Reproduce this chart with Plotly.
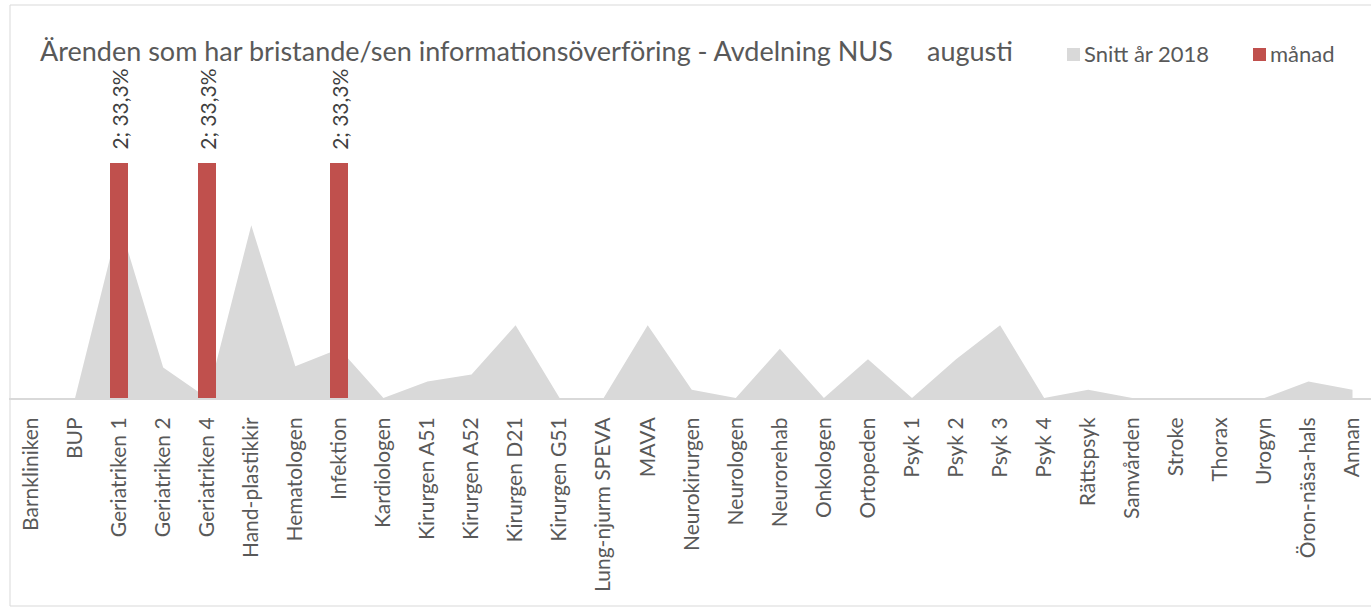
import plotly.graph_objects as go

categories = [
    "Barnkliniken", "BUP", "Geriatriken 1", "Geriatriken 2", "Geriatriken 4",
    "Hand-plastikkir", "Hematologen", "Infektion", "Kardiologen", "Kirurgen A51",
    "Kirurgen A52", "Kirurgen D21", "Kirurgen G51", "Lung-njurm SPEVA", "MAVA",
    "Neurokirurgen", "Neurologen", "Neurorehab", "Onkologen", "Ortopeden",
    "Psyk 1", "Psyk 2", "Psyk 3", "Psyk 4", "Rättspsyk",
    "Samvården", "Stroke", "Thorax", "Urogyn", "Öron-näsa-hals", "Annan",
]
snitt_2018 = [
    0, 0, 1.5, 0.26, 0,
    1.47, 0.27, 0.42, 0, 0.14,
    0.2, 0.62, 0, 0, 0.62,
    0.07, 0, 0.42, 0, 0.33,
    0, 0.33, 0.62, 0, 0.07,
    0, 0, 0, 0, 0.14, 0.07,
]
manad = [
    0, 0, 2, 0, 2,
    0, 0, 2, 0, 0,
    0, 0, 0, 0, 0,
    0, 0, 0, 0, 0,
    0, 0, 0, 0, 0,
    0, 0, 0, 0, 0, 0,
]
title_text = "Ärenden som har bristande/sen informationsöverföring - Avdelning NUS"
month_text = "augusti"
series_names = ["Snitt år 2018", "månad"]

W, H = 1371, 608
ML, MR, MT, MB = 9, 0, 30, 210
PW = W - ML - MR
PH = H - MT - MB
XRANGE = [-0.5, 30.42]
YRANGE = [0, PH / 117.5]

def px_x(px):
    return (px - ML) / PW

def px_y(py):
    return (H - MB - py) / PH

GREY = "#D9D9D9"
RED = "#C0504D"
TXT = "#595959"
FONT = "Lato"

fig = go.Figure()
fig.add_trace(go.Scatter(
    x=categories, y=snitt_2018, mode="lines", fill="tozeroy",
    fillcolor=GREY, line=dict(width=0, color=GREY),
    name=series_names[0], showlegend=False, xaxis="x", yaxis="y",
))
fig.add_trace(go.Bar(
    x=categories, y=manad, marker=dict(color=RED, line=dict(width=0)),
    width=0.41, name=series_names[1], showlegend=False, xaxis="x2", yaxis="y2",
))

total = sum(manad)
for c, v in zip(categories, manad):
    if v > 0:
        pct = f"{v / total * 100:.1f}".replace(".", ",")
        fig.add_annotation(
            x=c, y=v, xref="x2", yref="y2", text=f"{v}; {pct}%",
            textangle=-90, showarrow=False, yanchor="bottom", xanchor="center",
            yshift=11, font=dict(family=FONT, size=21, color="#404040"),
        )

# title and month
fig.add_annotation(x=px_x(38), y=px_y(51), xref="paper", yref="paper",
                   text=title_text, showarrow=False, xanchor="left", yanchor="middle",
                   font=dict(family=FONT, size=27, color=TXT))
fig.add_annotation(x=px_x(925), y=px_y(51), xref="paper", yref="paper",
                   text=month_text, showarrow=False, xanchor="left", yanchor="middle",
                   font=dict(family=FONT, size=27, color=TXT))

# legend (manual)
leg = [(1067, GREY, series_names[0]), (1253, RED, series_names[1])]
for x0, col, name in leg:
    fig.add_shape(type="rect", xref="paper", yref="paper",
                  x0=px_x(x0), x1=px_x(x0 + 13), y0=px_y(61), y1=px_y(48),
                  fillcolor=col, line=dict(width=0))
    fig.add_annotation(x=px_x(x0 + 15), y=px_y(54), xref="paper", yref="paper",
                       text=name, showarrow=False, xanchor="left", yanchor="middle",
                       font=dict(family=FONT, size=22, color=TXT))

# chart frame
fig.add_shape(type="rect", xref="paper", yref="paper",
              x0=px_x(10), x1=px_x(W + 20), y0=px_y(606), y1=px_y(5),
              line=dict(color=GREY, width=1), fillcolor="rgba(0,0,0,0)", layer="below")

fig.update_layout(
    width=W, height=H,
    margin=dict(l=ML, r=MR, t=MT, b=MB, pad=0),
    paper_bgcolor="white", plot_bgcolor="white",
    bargap=0, showlegend=False,
    font=dict(family=FONT, color=TXT),
    xaxis=dict(
        type="category", range=XRANGE, showline=True, linecolor=GREY, linewidth=2,
        showgrid=False, zeroline=False, ticks="", tickangle=-90,
        tickfont=dict(family=FONT, size=21, color=TXT), ticklabelstandoff=9,
    ),
    yaxis=dict(range=YRANGE, visible=False, showgrid=False, zeroline=False),
    xaxis2=dict(type="category", range=XRANGE, overlaying="x", visible=False,
                showgrid=False, zeroline=False, matches="x"),
    yaxis2=dict(range=YRANGE, overlaying="y", visible=False,
                showgrid=False, zeroline=False),
)

fig.write_html("out.html", config={"displayModeBar": False},
               post_script="document.body.style.margin='0';")
